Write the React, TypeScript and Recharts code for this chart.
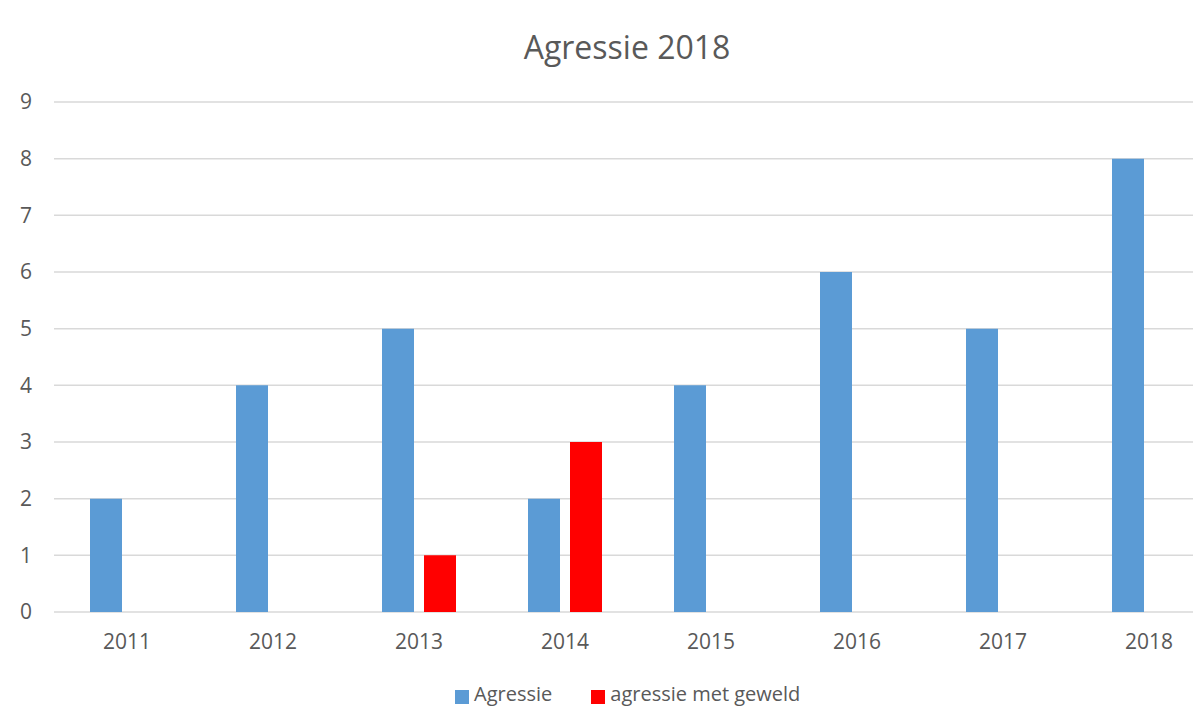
import { BarChart, Bar, XAxis, YAxis, CartesianGrid, Legend } from 'recharts'

const years = ['2011', '2012', '2013', '2014', '2015', '2016', '2017', '2018']
const agressie = [2, 4, 5, 2, 4, 6, 5, 8]
const metGeweld = [0, 0, 1, 3, 0, 0, 0, 0]
const yTicks = [0, 1, 2, 3, 4, 5, 6, 7, 8, 9]

const BLUE = '#5B9BD5'
const RED = '#FF0000'
const TEXT = '#595959'
const FONT = '"Open Sans", sans-serif'

const data = years.map((year, i) => ({
  year,
  agressie: agressie[i],
  metGeweld: metGeweld[i],
}))

const legendItems = [
  { label: 'Agressie', color: BLUE },
  { label: 'agressie met geweld', color: RED },
]

function ChartLegend() {
  return (
    <div style={{ display: 'flex', alignItems: 'center', height: 26, paddingLeft: 455, fontFamily: FONT, fontSize: 20, lineHeight: '26px', color: TEXT }}>
      {legendItems.map((item, i) => (
        <div key={item.label} style={{ display: 'flex', alignItems: 'center', marginRight: i === 0 ? 39 : 0 }}>
          <span style={{ display: 'inline-block', width: 14, height: 14, background: item.color, marginRight: 5, marginTop: 6 }} />
          <span>{item.label}</span>
        </div>
      ))}
    </div>
  )
}

export default function App() {
  return (
    <div style={{ position: 'absolute', top: 0, left: 0, width: 1193, height: 707, overflow: 'hidden', background: '#fff', fontFamily: FONT }}>
      <div style={{ position: 'absolute', top: 31, left: 0, width: 1254, textAlign: 'center', fontSize: 32, lineHeight: '32px', color: TEXT }}>
        Agressie 2018
      </div>
      <BarChart
        width={1222}
        height={707}
        data={data}
        margin={{ top: 102, right: 0, left: 0, bottom: 0 }}
        barSize={32}
        barGap={10}
      >
        <CartesianGrid vertical={false} stroke="#D9D9D9" strokeWidth={1.5} />
        <XAxis
          dataKey="year"
          axisLine={false}
          tickLine={false}
          tickSize={0}
          tickMargin={22}
          height={69}
          tick={{ fill: TEXT, fontSize: 21, fontFamily: FONT }}
        />
        <YAxis
          width={54}
          domain={[0, 9]}
          ticks={yTicks}
          axisLine={false}
          tickLine={false}
          tickSize={0}
          tickMargin={22}
          tick={{ fill: TEXT, fontSize: 21, fontFamily: FONT }}
        />
        <Legend verticalAlign="bottom" wrapperStyle={{ bottom: 0, height: 26 }} content={() => <ChartLegend />} />
        <Bar dataKey="agressie" name="Agressie" fill={BLUE} isAnimationActive={false} />
        <Bar dataKey="metGeweld" name="agressie met geweld" fill={RED} isAnimationActive={false} />
      </BarChart>
    </div>
  )
}
